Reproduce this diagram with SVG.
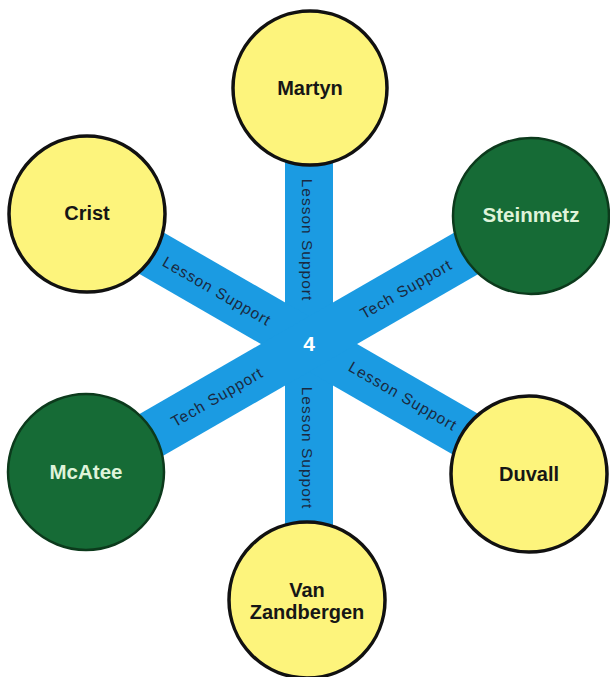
<svg xmlns="http://www.w3.org/2000/svg" width="610" height="677" viewBox="0 0 610 677">
<style>
.bar{stroke:#1b9be2;stroke-width:48;stroke-linecap:butt}
.lbl{font-family:"Liberation Sans",Arial,sans-serif;font-size:15.5px;fill:#1a2940;letter-spacing:1px;text-anchor:middle;dominant-baseline:central}
.yel{fill:#fdf47c;stroke:#111;stroke-width:3.5}
.grn{fill:#166b36;stroke:#0c3a1c;stroke-width:2.5}
.tb{font-family:"Liberation Sans",Arial,sans-serif;font-size:20px;font-weight:bold;fill:#161616;text-anchor:middle}
.tw{font-family:"Liberation Sans",Arial,sans-serif;font-size:20.5px;font-weight:bold;fill:#dff3da;text-anchor:middle}
</style>
<rect width="610" height="677" fill="#ffffff"/>
<g id="connectors">
<line class="bar" x1="309" y1="88" x2="309" y2="600"/>
<line class="bar" x1="87" y1="216" x2="531" y2="472"/>
<line class="bar" x1="531" y1="216" x2="87" y2="472"/>
<text class="lbl" transform="translate(307,240) rotate(90)">Lesson Support</text>
<text class="lbl" transform="translate(307,448) rotate(90)">Lesson Support</text>
<text class="lbl" transform="translate(217,291) rotate(30)">Lesson Support</text>
<text class="lbl" transform="translate(403,396) rotate(30)">Lesson Support</text>
<text class="lbl" transform="translate(406,289) rotate(-30)">Tech Support</text>
<text class="lbl" transform="translate(217,397) rotate(-30)">Tech Support</text>
<text x="309" y="351" font-family="Liberation Sans,Arial,sans-serif" font-size="21" font-weight="bold" fill="#ffffff" text-anchor="middle">4</text>
</g>
<g id="martyn"><circle class="yel" cx="310" cy="88" r="77"/><text class="tb" x="310" y="95">Martyn</text></g>
<g id="crist"><circle class="yel" cx="87" cy="214" r="78"/><text class="tb" x="87" y="220">Crist</text></g>
<g id="steinmetz"><circle class="grn" cx="531" cy="216" r="78"/><text class="tw" x="531" y="222">Steinmetz</text></g>
<g id="mcatee"><circle class="grn" cx="86" cy="472" r="78"/><text class="tw" x="86" y="479">McAtee</text></g>
<g id="duvall"><circle class="yel" cx="529" cy="474" r="78"/><text class="tb" x="529" y="481">Duvall</text></g>
<g id="vanzandbergen"><circle class="yel" cx="307" cy="600" r="78"/><text class="tb" x="307" y="597">Van</text><text class="tb" x="307" y="619">Zandbergen</text></g>
</svg>
